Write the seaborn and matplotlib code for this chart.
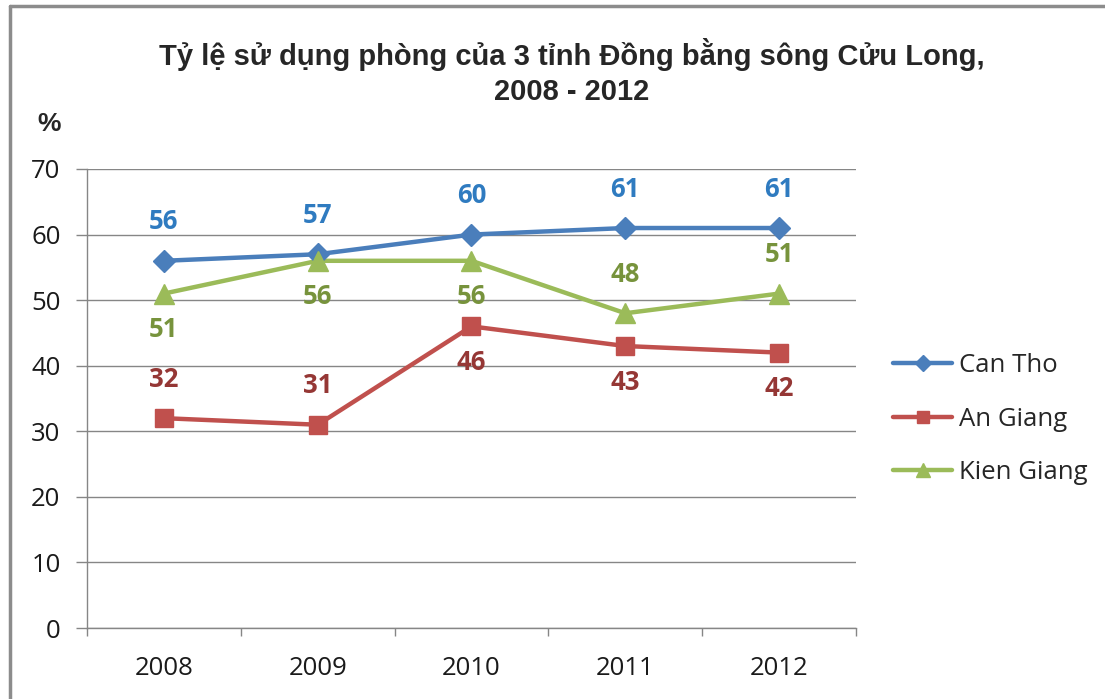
import matplotlib
matplotlib.use("Agg")
import matplotlib.pyplot as plt
import matplotlib.lines as mlines
import seaborn as sns
import pandas as pd

# Room occupancy rate (%) by province
years = ["2008", "2009", "2010", "2011", "2012"]
can_tho = [56, 57, 60, 61, 61]
an_giang = [32, 31, 46, 43, 42]
kien_giang = [51, 56, 56, 48, 51]
series_names = ["Can Tho", "An Giang", "Kien Giang"]

# label side for each point: +1 above, -1 below
label_side = {
    "Can Tho": [1, 1, 1, 1, 1],
    "An Giang": [1, 1, -1, -1, -1],
    "Kien Giang": [-1, -1, -1, 1, 1],
}

line_colors = {"Can Tho": "#4A7EBB", "An Giang": "#C0504D", "Kien Giang": "#9BBB59"}
label_colors = {"Can Tho": "#2F7BC0", "An Giang": "#953735", "Kien Giang": "#77933C"}
markers = {"Can Tho": "D", "An Giang": "s", "Kien Giang": "^"}
marker_sizes = {"Can Tho": 11, "An Giang": 13, "Kien Giang": 14}

values = {"Can Tho": can_tho, "An Giang": an_giang, "Kien Giang": kien_giang}
df = pd.DataFrame(
    [(i, y, name, v) for name in series_names for i, (y, v) in enumerate(zip(years, values[name]))],
    columns=["pos", "year", "province", "value"],
)

sns.set_style("white")
plt.rcParams["font.family"] = ["Open Sans", "DejaVu Sans"]

fig = plt.figure(figsize=(11.05, 6.99), dpi=100)
ax = fig.add_axes([87 / 1105, 1 - 628 / 699, (856 - 87) / 1105, (628 - 169) / 699])

sns.lineplot(
    data=df, x="pos", y="value", hue="province", hue_order=series_names,
    palette=line_colors, linewidth=3.2, legend=False, ax=ax, zorder=3,
)
for name in series_names:
    sub = df[df["province"] == name]
    ax.plot(sub["pos"], sub["value"], linestyle="none", marker=markers[name],
            markersize=marker_sizes[name], color=line_colors[name], zorder=4)
    for i, v in enumerate(values[name]):
        off = 28 if label_side[name][i] > 0 else -26
        ax.annotate(str(v), (i, v), xytext=(0, off), textcoords="offset points",
                    ha="center", va="center", fontsize=18.5, fontweight="bold",
                    color=label_colors[name], zorder=5)

ax.set_xlim(-0.5, 4.5)
ax.set_ylim(0, 70)
ax.set_yticks(range(0, 71, 10))
ax.set_xticks(range(5))
ax.set_xticklabels(years)
ax.set_xlabel("")
ax.set_ylabel("")
ax.tick_params(axis="both", labelsize=18.5, colors="#1a1a1a")
ax.tick_params(axis="y", length=8, width=1, color="#868686", pad=11, direction="out", left=True)
ax.tick_params(axis="x", length=0, pad=20)
# category boundary ticks on the x axis
ax.set_xticks([-0.5, 0.5, 1.5, 2.5, 3.5, 4.5], minor=True)
ax.tick_params(axis="x", which="minor", length=6, width=1, color="#868686", direction="out", bottom=True)

ax.grid(axis="y", color="#868686", linewidth=1)
ax.grid(axis="x", visible=False)
ax.set_axisbelow(True)
for s in ["top", "right"]:
    ax.spines[s].set_visible(False)
for s in ["left", "bottom"]:
    ax.spines[s].set_color("#868686")
    ax.spines[s].set_linewidth(1)

handles = [
    mlines.Line2D([], [], color=line_colors[n], marker=markers[n], markersize=marker_sizes[n] * 0.7,
                  linewidth=3.2, label=n)
    for n in series_names
]
fig.legend(handles=handles, loc="center left", bbox_to_anchor=(870 / 1105, 1 - 419 / 699),
           frameon=False, fontsize=18.5, handlelength=2.3, handletextpad=0.25, labelspacing=1.1)

fig.text(572 / 1105, 1 - 72 / 699,
         "Tỷ lệ sử dụng phòng của 3 tỉnh Đồng bằng sông Cửu Long,\n2008 - 2012",
         ha="center", va="center", fontsize=21, fontweight="bold",
         family=["Liberation Sans", "DejaVu Sans"], linespacing=1.28)
fig.text(49 / 1105, 1 - 124 / 699, "%", ha="center", va="center", fontsize=19,
         fontweight="bold", family=["Liberation Sans", "DejaVu Sans"])

# outer frame edges
fig.add_artist(mlines.Line2D([10 / 1105, 10 / 1105], [0, 1 - 6 / 699], color="#8c8c8c",
                             linewidth=2.5, transform=fig.transFigure))
fig.add_artist(mlines.Line2D([10 / 1105, 1], [1 - 6 / 699, 1 - 6 / 699], color="#8c8c8c",
                             linewidth=2.5, transform=fig.transFigure))

fig.savefig("out.png", dpi=100, facecolor="white")
